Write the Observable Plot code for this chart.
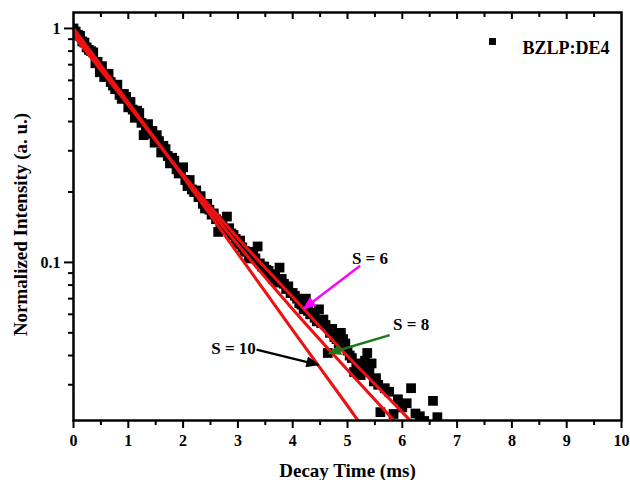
<!DOCTYPE html>
<html>
<head>
<meta charset="utf-8">
<script src="https://cdn.jsdelivr.net/npm/d3@7"></script>
<script src="https://cdn.jsdelivr.net/npm/@observablehq/plot@0.6"></script>
<style>
  body { margin: 0; background: #fff; }
</style>
</head>
<body>
<div id="chart"></div>
<script>
// Measured decay data (BZLP:DE4)
const times = [
  0.00,0.04,0.08,0.12,0.16,0.20,0.24,0.28,0.32,0.36,
  0.40,0.44,0.48,0.52,0.56,0.60,0.64,0.68,0.72,0.76,
  0.80,0.84,0.88,0.92,0.96,1.00,1.04,1.08,1.12,1.16,
  1.20,1.24,1.28,1.32,1.36,1.40,1.44,1.48,1.52,1.56,
  1.60,1.64,1.68,1.72,1.76,1.80,1.84,1.88,1.92,1.96,
  2.00,2.04,2.08,2.12,2.16,2.20,2.24,2.28,2.32,2.36,
  2.40,2.44,2.48,2.52,2.56,2.60,2.64,2.68,2.72,2.76,
  2.80,2.84,2.88,2.92,2.96,3.00,3.04,3.08,3.12,3.16,
  3.20,3.24,3.28,3.32,3.36,3.40,3.44,3.48,3.52,3.56,
  3.60,3.64,3.68,3.72,3.76,3.80,3.84,3.88,3.92,3.96,
  4.00,4.04,4.08,4.12,4.16,4.20,4.24,4.28,4.32,4.36,
  4.40,4.44,4.48,4.52,4.56,4.60,4.64,4.68,4.72,4.76,
  4.80,4.84,4.88,4.92,4.96,5.00,5.04,5.08,5.12,5.16,
  5.20,5.24,5.28,5.32,5.36,5.40,5.44,5.48,5.52,5.56,
  5.60,5.68,5.76,5.84,5.92,6.00,6.08,6.16,6.24,6.32,
  6.40,6.48,6.56,6.64,6.72];
const intensity = [
  1.00,0.97,0.94,0.93,0.88,0.87,0.83,0.81,0.80,0.79,
  0.71,0.72,0.65,0.69,0.62,0.63,0.64,0.59,0.57,0.55,
  0.575,0.52,0.50,0.525,0.51,0.46,0.485,0.45,0.415,0.445,
  0.435,0.395,0.35,0.375,0.39,0.355,0.365,0.325,0.35,0.33,
  0.295,0.315,0.305,0.285,0.265,0.28,0.272,0.25,0.24,0.245,
  0.255,0.225,0.212,0.225,0.205,0.20,0.203,0.19,0.192,0.178,
  0.17,0.178,0.168,0.16,0.162,0.153,0.135,0.146,0.15,0.138,
  0.157,0.14,0.133,0.131,0.126,0.12,0.124,0.116,0.112,0.111,
  0.104,0.105,0.111,0.104,0.117,0.099,0.096,0.096,0.093,0.092,
  0.089,0.085,0.088,0.082,0.095,0.085,0.081,0.077,0.079,0.074,
  0.074,0.072,0.070,0.067,0.066,0.063,0.070,0.062,0.060,0.061,
  0.058,0.056,0.063,0.055,0.057,0.054,0.041,0.050,0.052,0.048,
  0.047,0.045,0.050,0.047,0.045,0.042,0.040,0.039,0.034,0.037,
  0.036,0.033,0.035,0.038,0.041,0.034,0.037,0.031,0.032,0.030,
  0.0229,0.029,0.028,0.0225,0.026,0.024,0.025,0.029,0.0226,0.022,
  0.021,0.020,0.0256,0.0218,0.019];

// Fitted curves
const fitS6X = [0, 1, 2, 3, 4, 5, 6, 6.4];
const fitS6Y = [0.935, 0.470, 0.237, 0.127, 0.0711, 0.0398, 0.0229, 0.0182];
const fitS8X = [0, 1, 2, 3, 4, 5, 6];
const fitS8Y = [0.965, 0.477, 0.234, 0.119, 0.0631, 0.0347, 0.0193];
const fitS10X = [0, 1, 2, 3, 4, 5, 5.4];
const fitS10Y = [1.0, 0.483, 0.232, 0.109, 0.0514, 0.0244, 0.018];

// Annotations
const annoLabels = ["S = 6", "S = 8", "S = 10"];
const annoTextX = [5.41, 6.16, 2.92];
const annoTextY = [0.1037, 0.0544, 0.0430];
const arrowX1 = [5.23, 5.77, 3.34];
const arrowY1 = [0.0968, 0.0489, 0.0424];
const arrowX2 = [4.20, 4.66, 4.47];
const arrowY2 = [0.0634, 0.0409, 0.0365];
const arrowColors = ["#ff00ff", "#1a7a1a", "#000000"];

// Ticks
const xMajor = [0,1,2,3,4,5,6,7,8,9,10];
const xMinor = [0.5,1.5,2.5,3.5,4.5,5.5,6.5,7.5,8.5,9.5];
const xTopMajor = [1,2,3,4,5,6,7,8,9];
const yMajor = [1, 0.1];
const yMinor = [0.9,0.8,0.7,0.6,0.5,0.4,0.3,0.2,0.09,0.08,0.07,0.06,0.05,0.04,0.03];

const seriesName = "BZLP:DE4";
const xLabel = "Decay Time (ms)";
const yLabel = "Normalized Intensity (a. u.)";

const points = times.map((t, i) => ({t, v: intensity[i]}));
const fits = [
  ...fitS6X.map((x, i) => ({s: "6", x, y: fitS6Y[i]})),
  ...fitS8X.map((x, i) => ({s: "8", x, y: fitS8Y[i]})),
  ...fitS10X.map((x, i) => ({s: "10", x, y: fitS10Y[i]}))
];
const annos = annoLabels.map((l, i) => ({
  l, tx: annoTextX[i], ty: annoTextY[i],
  x1: arrowX1[i], y1: arrowY1[i], x2: arrowX2[i], y2: arrowY2[i], c: arrowColors[i]
}));

function filledArrow(color, context) {
  const doc = (context && context.document) || document;
  const ns = "http://www.w3.org/2000/svg";
  const m = doc.createElementNS(ns, "marker");
  m.setAttribute("viewBox", "0 -5 12 10");
  m.setAttribute("refX", "11");
  m.setAttribute("refY", "0");
  m.setAttribute("markerUnits", "userSpaceOnUse");
  m.setAttribute("markerWidth", "15");
  m.setAttribute("markerHeight", "11");
  m.setAttribute("orient", "auto");
  const p = doc.createElementNS(ns, "path");
  p.setAttribute("d", "M0,-5L12,0L0,5Z");
  p.setAttribute("fill", color);
  m.appendChild(p);
  return m;
}

const font = "Liberation Serif, Times New Roman, serif";

const chart = Plot.plot({
  width: 630,
  height: 480,
  marginLeft: 73,
  marginRight: 9,
  marginTop: 12,
  marginBottom: 60,
  style: `font-family: ${font}; font-weight: bold; font-size: 16px; color: black; background: white;`,
  x: {domain: [0, 10], axis: null},
  y: {type: "log", domain: [0.0211, 1.17], axis: null},
  marks: [
    Plot.dot(points, {x: "t", y: "v", symbol: "square", r: 5.5, fill: "black", stroke: "none", clip: true}),
    Plot.line(fits, {x: "x", y: "y", z: "s", stroke: "#ee1111", strokeWidth: 3.1, curve: "monotone-x", clip: true}),
    Plot.link(annos, {x1: "x1", y1: "y1", x2: "x2", y2: "y2", stroke: "c", strokeWidth: 2.4, markerEnd: filledArrow}),
    Plot.text(annos, {x: "tx", y: "ty", text: "l", fontSize: 17, fontWeight: "bold", fill: "black", textAnchor: "middle"}),
    // legend
    Plot.dot([seriesName], {frameAnchor: "top-right", dx: -129, dy: 29, symbol: "square", r: 3.9, fill: "black", stroke: "none"}),
    Plot.text([seriesName], {frameAnchor: "top-right", dx: -12, dy: 29, text: d => d, textAnchor: "end", fontSize: 18, fontWeight: "bold", fill: "black"}),
    // axes
    Plot.axisX({ticks: xMajor, anchor: "bottom", tickSize: 8, tickPadding: 6, tickFormat: d => String(d), strokeWidth: 2, label: null, fontSize: 16, fontWeight: "bold"}),
    Plot.axisX({ticks: xMinor, anchor: "bottom", tickSize: 5, text: null, strokeWidth: 2, label: null}),
    Plot.ruleX(xTopMajor, {x: d => d, insetBottom: 401, stroke: "black", strokeWidth: 2}),
    Plot.ruleX(xMinor, {x: d => d, insetBottom: 403, stroke: "black", strokeWidth: 2}),
    Plot.axisY({ticks: yMajor, anchor: "left", tickSize: 9, tickPadding: 4, tickFormat: d => String(d), strokeWidth: 2, label: null, fontSize: 16, fontWeight: "bold"}),
    Plot.axisY({ticks: yMinor, anchor: "left", tickSize: 5, text: null, strokeWidth: 2, label: null}),
    Plot.frame({stroke: "black", strokeWidth: 2.5}),
    // axis titles
    Plot.text([xLabel], {frameAnchor: "bottom", dy: 56, lineAnchor: "bottom", textAnchor: "middle", text: d => d, fontSize: 19, fontWeight: "bold", fill: "black"}),
    Plot.text([yLabel], {frameAnchor: "left", dx: -47, dy: 8, rotate: -90, lineAnchor: "bottom", textAnchor: "middle", text: d => d, fontSize: 19, fontWeight: "bold", fill: "black"})
  ]
});
document.getElementById("chart").appendChild(chart);
</script>
</body>
</html>
